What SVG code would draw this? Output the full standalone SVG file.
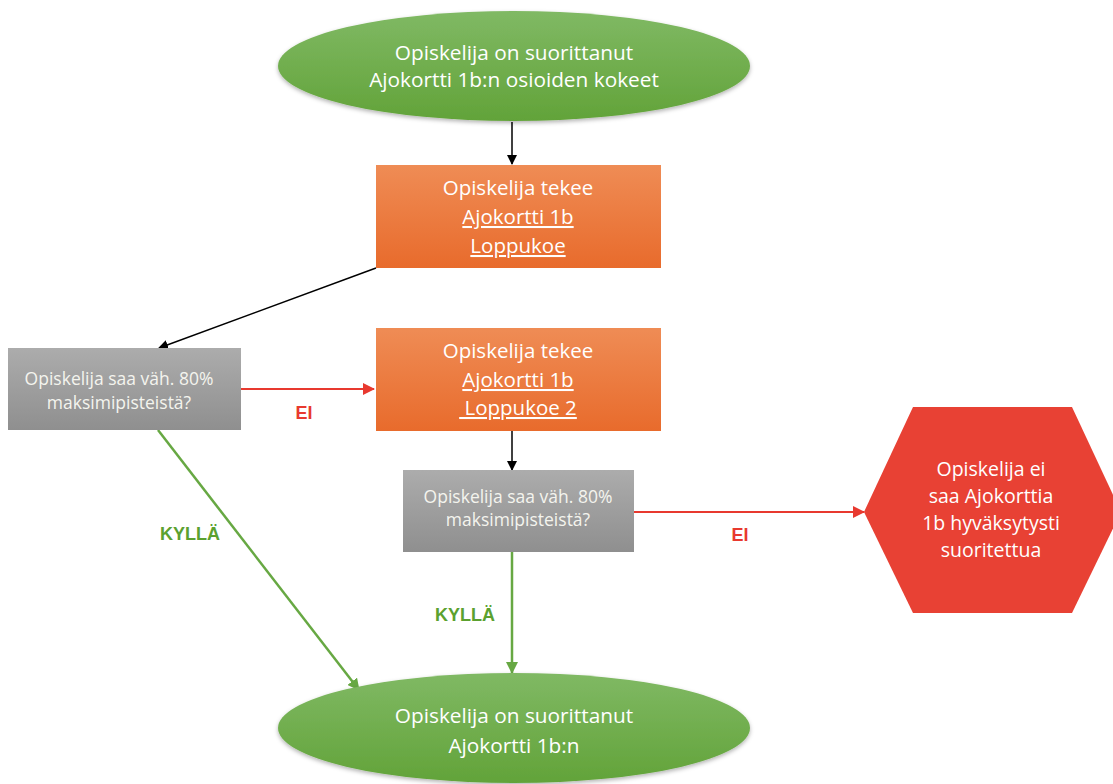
<svg xmlns="http://www.w3.org/2000/svg" width="1113" height="784" viewBox="0 0 1113 784">
<defs>
<linearGradient id="gGreen" x1="0" y1="0" x2="0" y2="1"><stop offset="0" stop-color="#80b964"/><stop offset="1" stop-color="#62a339"/></linearGradient>
<linearGradient id="gOrange" x1="0" y1="0" x2="0" y2="1"><stop offset="0" stop-color="#ef8c55"/><stop offset="1" stop-color="#e86b2c"/></linearGradient>
<linearGradient id="gGray" x1="0" y1="0" x2="0" y2="1"><stop offset="0" stop-color="#acacac"/><stop offset="1" stop-color="#8f8f8f"/></linearGradient>
<filter id="sh" x="-10%" y="-10%" width="120%" height="130%"><feDropShadow dx="0" dy="2" stdDeviation="2" flood-color="#000" flood-opacity="0.3"/></filter>
<marker id="aBlack" markerWidth="10" markerHeight="10" refX="9" refY="5" orient="auto" markerUnits="userSpaceOnUse"><path d="M0,0 L10,5 L0,10 Z" fill="#000"/></marker>
<marker id="aRed" markerWidth="12" markerHeight="12" refX="11" refY="6" orient="auto" markerUnits="userSpaceOnUse"><path d="M0,0 L12,6 L0,12 Z" fill="#e8392f"/></marker>
<marker id="aGreen" markerWidth="12" markerHeight="12" refX="11" refY="6" orient="auto" markerUnits="userSpaceOnUse"><path d="M0,0 L12,6 L0,12 Z" fill="#67a843"/></marker>
</defs>
<style>
text{font-family:"Open Sans","Liberation Sans",Arial,sans-serif;fill:#fff;text-anchor:middle}
.big{font-size:20.8px}
.mid{font-size:20.5px}
.hx{font-size:19.5px}
.sm{font-size:17.5px;fill:#f4f4ee}
.lbl{font-family:"Liberation Sans",Arial,sans-serif;font-weight:bold;font-size:18px}
.u{text-decoration:underline}
.ei{fill:#e8392f}
.ky{fill:#5ba12f}
</style>
<rect width="1113" height="784" fill="#fff"/>
<g id="connectors" fill="none">
<line x1="512" y1="122" x2="512" y2="164" stroke="#000" stroke-width="1.5" marker-end="url(#aBlack)"/>
<line x1="376" y1="268" x2="159" y2="348" stroke="#000" stroke-width="1.5" marker-end="url(#aBlack)"/>
<line x1="241" y1="389" x2="374" y2="389" stroke="#e8392f" stroke-width="2" marker-end="url(#aRed)"/>
<line x1="512" y1="431" x2="512" y2="470" stroke="#000" stroke-width="1.5" marker-end="url(#aBlack)"/>
<line x1="634" y1="512" x2="864" y2="512" stroke="#e8392f" stroke-width="2" marker-end="url(#aRed)"/>
<line x1="158" y1="430" x2="359" y2="690" stroke="#67a843" stroke-width="2.5" marker-end="url(#aGreen)"/>
<line x1="512" y1="552" x2="512" y2="673" stroke="#67a843" stroke-width="2.5" marker-end="url(#aGreen)"/>
<text class="lbl ei" x="304" y="419">EI</text>
<text class="lbl ei" x="740" y="541">EI</text>
<text class="lbl ky" x="190" y="540">KYLLÄ</text>
<text class="lbl ky" x="465" y="621">KYLLÄ</text>
</g>
<g id="start">
<ellipse cx="514" cy="66" rx="236" ry="55" fill="url(#gGreen)" filter="url(#sh)"/>
<text class="big" x="514" y="60">Opiskelija on suorittanut</text>
<text class="big" x="514" y="87">Ajokortti 1b:n osioiden kokeet</text>
</g>
<g id="test1">
<rect x="376" y="165" width="285" height="103" fill="url(#gOrange)"/>
<text class="mid" x="518" y="195">Opiskelija tekee</text>
<text class="mid u" x="518" y="224">Ajokortti 1b</text>
<text class="mid u" x="518" y="253">Loppukoe</text>
</g>
<g id="check1">
<rect x="8" y="348" width="233" height="82" fill="url(#gGray)"/>
<text class="sm" x="119" y="385">Opiskelija saa väh. 80%</text>
<text class="sm" x="119" y="409">maksimipisteistä?</text>
</g>
<g id="test2">
<rect x="376" y="328" width="285" height="103" fill="url(#gOrange)"/>
<text class="mid" x="518" y="358">Opiskelija tekee</text>
<text class="mid u" x="518" y="387">Ajokortti 1b</text>
<text class="mid u" x="518" y="415">&#160;Loppukoe 2</text>
</g>
<g id="check2">
<rect x="403" y="470" width="231" height="82" fill="url(#gGray)"/>
<text class="sm" x="518" y="503">Opiskelija saa väh. 80%</text>
<text class="sm" x="518" y="526">maksimipisteistä?</text>
</g>
<g id="fail">
<polygon points="864,512 913,407 1072,407 1121,512 1072,613 913,613" fill="#e84134"/>
<text class="hx" x="991" y="476">Opiskelija ei</text>
<text class="hx" x="991" y="503">saa Ajokorttia</text>
<text class="hx" x="991" y="530">1b hyväksytysti</text>
<text class="hx" x="991" y="557">suoritettua</text>
</g>
<g id="end">
<ellipse cx="514" cy="728" rx="236" ry="55" fill="url(#gGreen)" filter="url(#sh)"/>
<text class="big" x="514" y="723">Opiskelija on suorittanut</text>
<text class="big" x="514" y="753">Ajokortti 1b:n</text>
</g>
</svg>
